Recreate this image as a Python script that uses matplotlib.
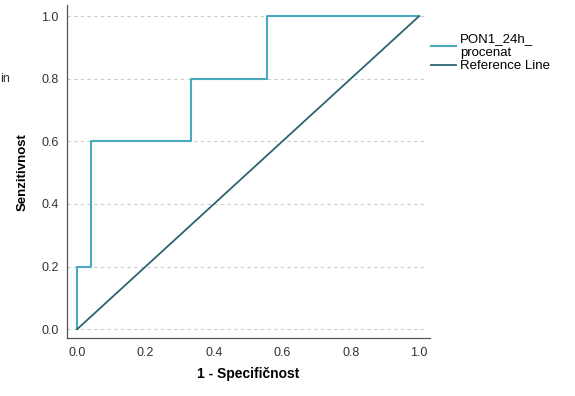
import matplotlib
matplotlib.use("Agg")
import matplotlib.pyplot as plt

plt.rcParams['font.family'] = ['Liberation Sans', 'DejaVu Sans']

# ROC curve points (1 - specificity, sensitivity)
fpr = [0.0, 0.0, 0.04, 0.04, 0.333, 0.333, 0.556, 0.556, 1.0]
tpr = [0.0, 0.2, 0.2, 0.6, 0.6, 0.8, 0.8, 1.0, 1.0]
ref_x = [0.0, 1.0]
ref_y = [0.0, 1.0]
ticks = [0.0, 0.2, 0.4, 0.6, 0.8, 1.0]
tick_labels = ['0.0', '0.2', '0.4', '0.6', '0.8', '1.0']

fig = plt.figure(figsize=(5.75, 3.96), dpi=100)
ax = fig.add_axes([0.1165, 0.146, 0.6315, 0.841])

for t in ticks:
    ax.axhline(t, xmax=0.99, color='#cccccc', linestyle=(0, (3, 3)), linewidth=0.8, zorder=0)

ax.plot(fpr, tpr, color='#4aa9bd', linewidth=1.5, label='PON1_24h_\nprocenat')
ax.plot(ref_x, ref_y, color='#2c6470', linewidth=1.3, label='Reference Line')

ax.set_xlim(-0.030, 1.032)
ax.set_ylim(-0.029, 1.035)
ax.set_xticks(ticks)
ax.set_xticklabels(tick_labels)
ax.set_yticks(ticks)
ax.set_yticklabels(tick_labels)
ax.tick_params(length=0, labelsize=9, labelcolor='#333333', pad=6)

for side in ['top', 'right']:
    ax.spines[side].set_visible(False)
for side in ['left', 'bottom']:
    ax.spines[side].set_color('#555555')
    ax.spines[side].set_linewidth(0.9)

ax.set_xlabel('1 - Specifičnost', fontsize=10, fontweight='bold', labelpad=6)
ax.set_ylabel('Senzitivnost', fontsize=9.5, fontweight='bold', labelpad=9)

fig.legend(loc='upper left', bbox_to_anchor=(0.74, 0.93), frameon=False,
           fontsize=9.5, handlelength=1.9, handletextpad=0.3, labelspacing=0.1,
           borderaxespad=0)

fig.text(0.0, 0.80, 'in', fontsize=9, color='#333333', va='center')

fig.savefig('out.png', dpi=100, facecolor='white')
